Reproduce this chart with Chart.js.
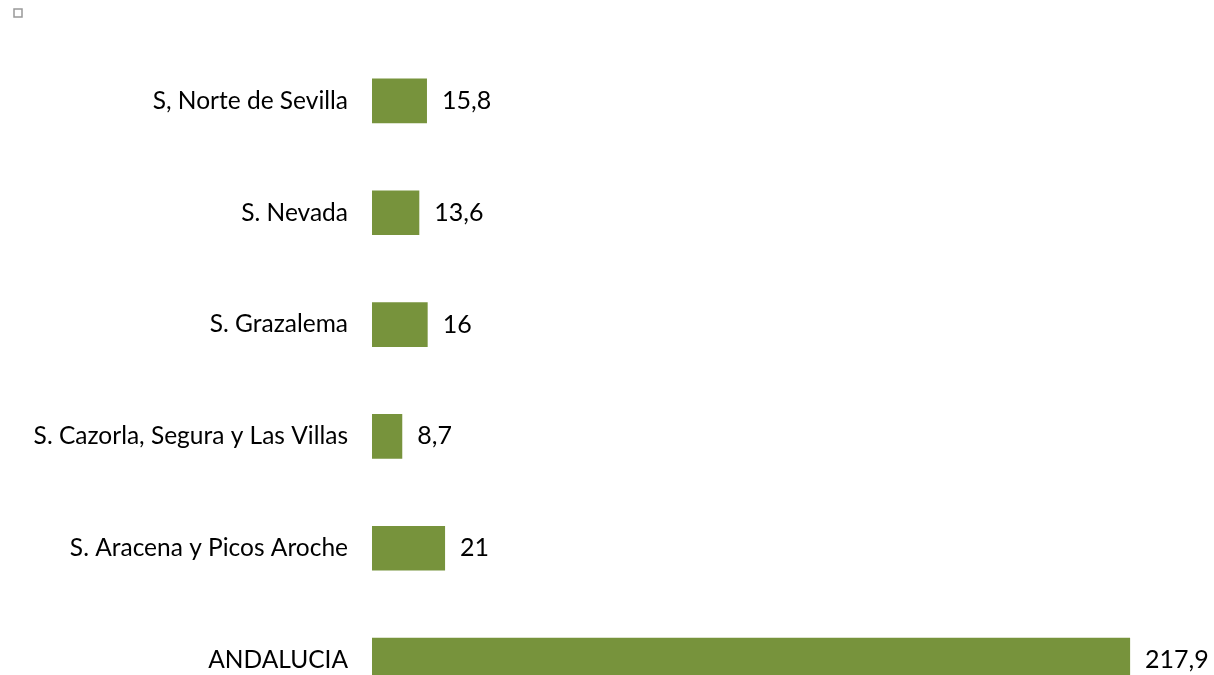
<!DOCTYPE html>
<html>
<head>
<meta charset="utf-8">
<script src="https://cdn.jsdelivr.net/npm/chart.js@4"></script>
<style>
  html, body { margin: 0; padding: 0; background: #fff; overflow: hidden; }
  canvas { display: block; }
</style>
</head>
<body>
<!-- más alto que la ventana: la barra de ANDALUCIA queda cortada abajo -->
<canvas id="grafico" width="1214" height="716"></canvas>
<script>
const categorias = [
    "S, Norte de Sevilla",
    "S. Nevada",
    "S. Grazalema",
    "S. Cazorla, Segura y Las Villas",
    "S. Aracena y Picos Aroche",
    "ANDALUCIA"
];
const valores = [15.8, 13.6, 16, 8.7, 21, 217.9];

const verde = "#77933C";
const fuente = "Lato, 'Open Sans', sans-serif";
const tamLetra = 24.5;

// etiqueta con el valor a la derecha de cada barra, con coma decimal
const etiquetasValor = {
    id: "etiquetasValor",
    afterDatasetsDraw(chart) {
        const ctx = chart.ctx;
        const meta = chart.getDatasetMeta(0);
        ctx.save();
        ctx.font = "25px " + fuente;
        ctx.fillStyle = "#000";
        ctx.textAlign = "left";
        ctx.textBaseline = "middle";
        meta.data.forEach((bar, i) => {
            const txt = String(valores[i]).replace(".", ",");
            ctx.fillText(txt, bar.x + 15, bar.y);
        });
        ctx.restore();
    }
};

new Chart(document.getElementById("grafico").getContext("2d"), {
    type: "bar",
    data: {
        labels: categorias,
        datasets: [{
            label: "",
            data: valores,
            backgroundColor: verde,
            barPercentage: 0.8,
            categoryPercentage: 0.5
        }]
    },
    options: {
        indexAxis: "y",
        responsive: false,
        animation: false,
        layout: { padding: { top: 0, right: 7, bottom: 0, left: 5 } },
        plugins: {
            legend: {
                display: true,
                position: "top",
                align: "start",
                labels: {
                    boxWidth: 8,
                    boxHeight: 8,
                    padding: 9,
                    font: { size: 7 },
                    generateLabels: () => [{
                        text: "",
                        fillStyle: "#fff",
                        strokeStyle: "#999",
                        lineWidth: 1.5,
                        datasetIndex: 0
                    }]
                }
            },
            tooltip: { enabled: false }
        },
        scales: {
            x: {
                position: "top",
                min: 0,
                max: 240,
                afterFit: (scale) => { scale.height = 18; },
                grid: { display: false, drawTicks: false },
                border: { display: false },
                ticks: { display: false }
            },
            y: {
                afterFit: (scale) => {
                    scale.width = 367;
                    scale.paddingTop = 0;
                    scale.paddingBottom = 0;
                },
                grid: { display: false, drawTicks: false },
                border: { display: false },
                ticks: {
                    padding: 24,
                    color: "#000",
                    font: { size: tamLetra, family: fuente }
                }
            }
        }
    },
    plugins: [etiquetasValor]
});
</script>
</body>
</html>
